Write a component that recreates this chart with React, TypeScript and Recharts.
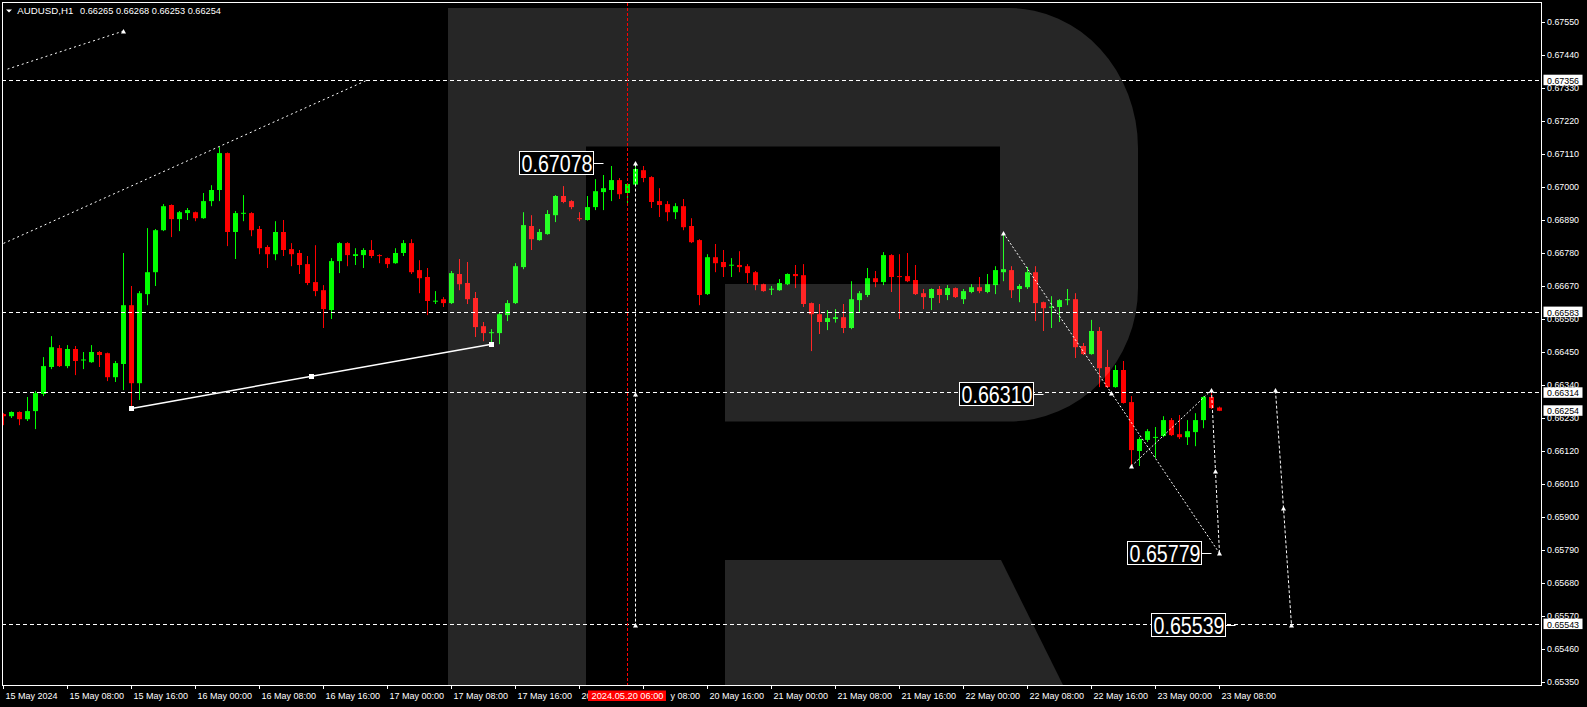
import React from 'react';
import { ComposedChart, Bar, XAxis, YAxis, ReferenceLine, ReferenceDot } from 'recharts';

const FONT = '"Liberation Sans", Arial, sans-serif';
const W = 1587;
const H = 707;
const X_DOMAIN: [number, number] = [-0.1875, 192.1875];
const Y_DOMAIN: [number, number] = [0.6533667, 0.6761667];

// AUDUSD H1 candles, 15 May 2024 00:00 .. 23 May 2024 08:00 (index = hour bar)
const opens = [
  0.66243, 0.66236, 0.6625, 0.66226, 0.66253, 0.6631, 0.664, 0.66463, 0.66403, 0.6646,
  0.66423, 0.66416, 0.6645, 0.66446, 0.66366, 0.6641, 0.66606, 0.66346, 0.66643, 0.66716,
  0.66856, 0.6694, 0.66893, 0.66913, 0.66916, 0.66896, 0.66953, 0.6699, 0.67113, 0.6685,
  0.66913, 0.66913, 0.6686, 0.668, 0.66776, 0.6685, 0.66793, 0.6678, 0.66743, 0.66683,
  0.66656, 0.6659, 0.66753, 0.66813, 0.6677, 0.66773, 0.6679, 0.66773, 0.66763, 0.66746,
  0.6678, 0.66813, 0.66723, 0.667, 0.6662, 0.66626, 0.66613, 0.6671, 0.6668, 0.6663,
  0.66536, 0.66513, 0.66513, 0.66573, 0.66613, 0.66733, 0.6687, 0.66823, 0.66843, 0.66906,
  0.6697, 0.66953, 0.66896, 0.6689, 0.66933, 0.66983, 0.6699, 0.67023, 0.6698, 0.67008,
  0.67056, 0.67033, 0.66953, 0.66943, 0.66916, 0.66936, 0.6687, 0.66823, 0.66643, 0.66766,
  0.6675, 0.6674, 0.6674, 0.66736, 0.66716, 0.66676, 0.6666, 0.66656, 0.66676, 0.6671,
  0.66706, 0.66613, 0.66576, 0.6655, 0.6656, 0.66566, 0.6653, 0.66623, 0.6664, 0.66696,
  0.66683, 0.66773, 0.66703, 0.66703, 0.6669, 0.66646, 0.6663, 0.6666, 0.6664, 0.66663,
  0.66626, 0.6665, 0.66666, 0.6665, 0.66673, 0.66716, 0.66723, 0.6666, 0.66666, 0.66716,
  0.66616, 0.666, 0.666, 0.66623, 0.66626, 0.6647, 0.66443, 0.6652, 0.664, 0.66333,
  0.6639, 0.66283, 0.6612, 0.66157, 0.66166, 0.6617, 0.66223, 0.66176, 0.66166, 0.66183,
  0.66223, 0.663, 0.66265,
];
const highs = [
  0.66246, 0.66252, 0.66252, 0.663, 0.6632, 0.66433, 0.66503, 0.66473, 0.66473, 0.6647,
  0.6645, 0.66473, 0.66453, 0.66448, 0.6642, 0.6678, 0.6667, 0.66653, 0.66863, 0.6686,
  0.66943, 0.66942, 0.6692, 0.6693, 0.66918, 0.6698, 0.67006, 0.67133, 0.67115, 0.6692,
  0.66973, 0.66916, 0.6687, 0.66806, 0.66886, 0.6689, 0.66813, 0.6679, 0.6677, 0.66806,
  0.66673, 0.66763, 0.66816, 0.66816, 0.66796, 0.66796, 0.66823, 0.66776, 0.66765, 0.66796,
  0.66823, 0.66826, 0.66756, 0.6673, 0.66653, 0.66633, 0.6672, 0.6676, 0.6675, 0.6665,
  0.6655, 0.66526, 0.6658, 0.66623, 0.66746, 0.66916, 0.66906, 0.6686, 0.66923, 0.66973,
  0.67003, 0.66956, 0.66916, 0.6697, 0.67026, 0.6704, 0.6707, 0.6703, 0.67013, 0.67078,
  0.6707, 0.67036, 0.66996, 0.66953, 0.66946, 0.6696, 0.66896, 0.66826, 0.66776, 0.6681,
  0.6679, 0.66763, 0.66786, 0.66743, 0.6672, 0.66678, 0.6667, 0.66693, 0.66712, 0.6674,
  0.66743, 0.66615, 0.6661, 0.6659, 0.66593, 0.6661, 0.66686, 0.66653, 0.6673, 0.6672,
  0.66783, 0.66776, 0.66776, 0.6678, 0.6674, 0.6666, 0.66662, 0.6667, 0.66673, 0.66665,
  0.6666, 0.66676, 0.667, 0.6671, 0.66736, 0.66846, 0.66736, 0.66676, 0.66733, 0.66736,
  0.66618, 0.66636, 0.66626, 0.6666, 0.66646, 0.6648, 0.66557, 0.66533, 0.66457, 0.66406,
  0.6642, 0.66303, 0.66166, 0.66193, 0.662, 0.66236, 0.6623, 0.6624, 0.66223, 0.66246,
  0.66303, 0.66326, 0.66268,
];
const lows = [
  0.66206, 0.6623, 0.66206, 0.6622, 0.66193, 0.66303, 0.66393, 0.664, 0.66396, 0.66373,
  0.66393, 0.66414, 0.664, 0.66353, 0.6635, 0.66323, 0.66263, 0.6629, 0.66606, 0.6667,
  0.66853, 0.66833, 0.66853, 0.6689, 0.66886, 0.66894, 0.66936, 0.66953, 0.66803, 0.6676,
  0.66886, 0.66836, 0.66776, 0.6673, 0.66756, 0.6677, 0.66736, 0.6671, 0.66673, 0.66636,
  0.6653, 0.6656, 0.66713, 0.66736, 0.6674, 0.6673, 0.66763, 0.66746, 0.6673, 0.66744,
  0.6677, 0.6671, 0.66646, 0.66573, 0.6661, 0.666, 0.6661, 0.66656, 0.6661, 0.665,
  0.66486, 0.66483, 0.66476, 0.66553, 0.6661, 0.66726, 0.6679, 0.66821, 0.66841, 0.66883,
  0.66946, 0.66926, 0.66886, 0.66888, 0.66923, 0.66923, 0.66953, 0.6696, 0.6694, 0.67004,
  0.67016, 0.6693, 0.669, 0.66886, 0.66893, 0.66856, 0.66813, 0.66606, 0.6664, 0.66716,
  0.667, 0.667, 0.66716, 0.6668, 0.66656, 0.66651, 0.6664, 0.66654, 0.66673, 0.66663,
  0.666, 0.66453, 0.6651, 0.66523, 0.66548, 0.66513, 0.66526, 0.66583, 0.66633, 0.66666,
  0.66673, 0.6665, 0.6656, 0.66683, 0.6664, 0.66593, 0.6659, 0.66613, 0.66623, 0.6663,
  0.6661, 0.66646, 0.66646, 0.66646, 0.66643, 0.66686, 0.6663, 0.66616, 0.6666, 0.66553,
  0.6652, 0.6653, 0.6655, 0.66606, 0.6643, 0.6644, 0.66441, 0.66333, 0.6633, 0.66331,
  0.66278, 0.66066, 0.6607, 0.6615, 0.66096, 0.66166, 0.6617, 0.6616, 0.6614, 0.66136,
  0.66196, 0.6626, 0.66253,
];
const closes = [
  0.66236, 0.6625, 0.66226, 0.66253, 0.66313, 0.66403, 0.66466, 0.66403, 0.6646, 0.6642,
  0.66425, 0.6645, 0.6644, 0.66366, 0.66413, 0.66606, 0.66346, 0.66646, 0.66716, 0.66856,
  0.66936, 0.66893, 0.66916, 0.66923, 0.66896, 0.66953, 0.6699, 0.67113, 0.6685, 0.66913,
  0.66914, 0.66856, 0.66796, 0.66776, 0.6685, 0.6679, 0.66776, 0.6674, 0.6668, 0.66653,
  0.66593, 0.66753, 0.66813, 0.66773, 0.66776, 0.6679, 0.6677, 0.6677, 0.66743, 0.6678,
  0.66813, 0.66716, 0.66696, 0.6662, 0.66621, 0.66613, 0.66713, 0.66676, 0.66626, 0.66533,
  0.66513, 0.66516, 0.66576, 0.66613, 0.66736, 0.66873, 0.66826, 0.6685, 0.6691, 0.6697,
  0.6695, 0.66933, 0.66893, 0.66933, 0.66986, 0.66996, 0.67023, 0.66976, 0.6701, 0.6706,
  0.6703, 0.6695, 0.6694, 0.66916, 0.66936, 0.66866, 0.66816, 0.6664, 0.66766, 0.66746,
  0.66733, 0.66741, 0.66733, 0.66713, 0.66673, 0.66653, 0.66661, 0.6668, 0.6671, 0.66703,
  0.6661, 0.66576, 0.6655, 0.66563, 0.66566, 0.6653, 0.66626, 0.66646, 0.66696, 0.66683,
  0.66773, 0.667, 0.667, 0.66686, 0.66643, 0.66633, 0.6666, 0.6664, 0.66663, 0.66633,
  0.66653, 0.66666, 0.66653, 0.66676, 0.66723, 0.66726, 0.66656, 0.6667, 0.66716, 0.66613,
  0.66596, 0.66601, 0.66623, 0.66626, 0.66466, 0.66443, 0.6652, 0.66396, 0.66333, 0.6639,
  0.6628, 0.66123, 0.6616, 0.66186, 0.66167, 0.66223, 0.66173, 0.66166, 0.66186, 0.66223,
  0.663, 0.66263, 0.66254,
];

// time axis
const timeTickIndex = [0, 8, 16, 24, 32, 40, 48, 56, 64, 72, 80, 88, 96, 104, 112, 120, 128, 136, 144, 152];
const timeTickLabels = [
  '15 May 2024', '15 May 08:00', '15 May 16:00', '16 May 00:00', '16 May 08:00', '16 May 16:00',
  '17 May 00:00', '17 May 08:00', '17 May 16:00', '20 May 00:00', '20 May 08:00', '20 May 16:00',
  '21 May 00:00', '21 May 08:00', '21 May 16:00', '22 May 00:00', '22 May 08:00', '22 May 16:00',
  '23 May 00:00', '23 May 08:00',
];
// parts of the two labels that stay visible next to the crosshair time box
const partlyHiddenLabels: Record<number, { text: string; anchor: 'start' | 'end' }> = {
  72: { text: '20', anchor: 'start' },
  80: { text: 'y 08:00', anchor: 'end' },
};
const crossIndex = 78;
const crossLabel = '2024.05.20 06:00';

// price axis
const priceTicks = [
  0.6535, 0.6546, 0.6557, 0.6568, 0.6579, 0.659, 0.6601, 0.6612, 0.6623, 0.6634, 0.6645,
  0.6656, 0.6667, 0.6678, 0.6689, 0.67, 0.6711, 0.6722, 0.6733, 0.6744, 0.6755,
];
const priceTags = [0.67356, 0.66583, 0.66314, 0.66254, 0.65543];

// annotations
const levelLines = [0.67356, 0.66583, 0.66314, 0.65543];
const dottedLines = [
  { a: [0.5, 0.67393], b: [15, 0.6752], dash: '2 3' },
  { a: [0, 0.66812], b: [45.44, 0.67356], dash: '2 3' },
  { a: [125, 0.66846], b: [152, 0.65779], dash: '2 2' },
  { a: [141, 0.6607], b: [151, 0.66323], dash: '2 2' },
  { a: [151, 0.66323], b: [152, 0.65779], dash: '3 2' },
  { a: [159, 0.66321], b: [161, 0.65539], dash: '3 2' },
  { a: [79, 0.67078], b: [79, 0.65539], dash: '3 2' },
];
const solidLine = { a: [16, 0.66262], b: [61, 0.66476] };
const arrowMarks = [
  [15, 0.6752], [79, 0.67078], [79, 0.6631], [79, 0.65539], [125, 0.66846], [138.5, 0.66312],
  [152, 0.65779], [141, 0.6607], [151, 0.66323], [151.5, 0.66051], [159, 0.66321], [160, 0.6593],
  [161, 0.65539],
];
const squareMarks = [[16, 0.66262], [38.5, 0.66369], [61, 0.66476]];
const priceLabels = [
  { k: 75, p: 0.67078, text: '0.67078' },
  { k: 130, p: 0.6631, text: '0.66310' },
  { k: 151, p: 0.65779, text: '0.65779' },
  { k: 154, p: 0.65539, text: '0.65539' },
];

const candles = opens.map((open, k) => ({
  k,
  open,
  high: highs[k],
  low: lows[k],
  close: closes[k],
  range: [lows[k], highs[k]],
}));
const last = candles.length - 1;
const headerValues = [opens[last], highs[last], lows[last], closes[last]].map((v) => v.toFixed(5)).join(' ');

const Candle = (props: any) => {
  const { x, y, width, height, payload } = props;
  if (x == null || y == null || !payload) return null;
  const top = Math.min(y, y + height);
  const h = Math.abs(height);
  const span = payload.high - payload.low || 1e-9;
  const cx = Math.floor(x + width / 2) + 0.5;
  const py = (p: number) => top + ((payload.high - p) / span) * h;
  const yo = py(payload.open);
  const yc = py(payload.close);
  const up = payload.close >= payload.open;
  const color = up ? '#00FF00' : '#FF0000';
  const bt = Math.min(yo, yc);
  const bh = Math.max(1, Math.abs(yo - yc));
  return (
    <g>
      <line x1={cx} x2={cx} y1={top} y2={top + h} stroke={color} strokeWidth={1} />
      <rect x={cx - 2.5} y={bt} width={5} height={bh} fill={color} />
    </g>
  );
};

const TimeTick = (props: any) => {
  const { x, y, payload } = props;
  const k = payload.value;
  const px = Math.floor(x) + 0.5;
  if (k === crossIndex) {
    return (
      <g>
        <rect x={px - 39.5} y={y + 4.5} width={78} height={10.5} fill="#FF0000" />
        <text x={px} y={y + 13} fill="#FFFFFF" fontSize={9} fontFamily={FONT} textAnchor="middle" textLength={72} lengthAdjust="spacingAndGlyphs">
          {crossLabel}
        </text>
      </g>
    );
  }
  const label = timeTickLabels[timeTickIndex.indexOf(k)];
  const part = partlyHiddenLabels[k];
  return (
    <g>
      <line x1={px} x2={px} y1={y} y2={y + 3} stroke="#FFFFFF" />
      {part ? (
        <text
          x={part.anchor === 'start' ? px + 2 : px + 56.5}
          y={y + 13}
          fill="#FFFFFF"
          fontSize={9}
          fontFamily={FONT}
          textAnchor={part.anchor}
        >
          {part.text}
        </text>
      ) : (
        <text x={px + 2} y={y + 13} fill="#FFFFFF" fontSize={9} fontFamily={FONT}>
          {label}
        </text>
      )}
    </g>
  );
};

const PriceTick = (props: any) => {
  const { x, y, payload } = props;
  const v = payload.value;
  const py = Math.floor(y) + 0.5;
  if (priceTags.includes(v)) {
    return (
      <g>
        <rect x={x + 2.5} y={y - 5.5} width={39} height={10.5} fill="#FFFFFF" />
        <text x={x + 6} y={y + 3.4} fill="#000000" fontSize={9} fontFamily={FONT} textLength={32} lengthAdjust="spacingAndGlyphs">
          {v.toFixed(5)}
        </text>
      </g>
    );
  }
  return (
    <g>
      <line x1={x} x2={x + 4} y1={py} y2={py} stroke="#FFFFFF" />
      <text x={x + 6} y={y + 3.4} fill="#FFFFFF" fontSize={9} fontFamily={FONT} textLength={32} lengthAdjust="spacingAndGlyphs">
        {v.toFixed(5)}
      </text>
    </g>
  );
};

const crispLine = (props: any) => {
  let { x1, y1, x2, y2 } = props;
  if (Math.abs(y1 - y2) < 0.01) {
    const yy = Math.floor(y1) + 0.5;
    y1 = yy;
    y2 = yy;
  }
  if (Math.abs(x1 - x2) < 0.01) {
    const xx = Math.floor(x1) + 0.5;
    x1 = xx;
    x2 = xx;
  }
  return (
    <line
      x1={x1}
      y1={y1}
      x2={x2}
      y2={y2}
      stroke={props.stroke}
      strokeWidth={props.strokeWidth}
      strokeDasharray={props.strokeDasharray}
      fill="none"
    />
  );
};

const ArrowMark = (props: any) => {
  const { cx, cy } = props;
  if (cx == null) return null;
  const x = Math.floor(cx) + 0.5;
  const y = Math.floor(cy) + 0.5;
  return <path d={`M${x - 2.5},${y + 2} L${x},${y - 2.5} L${x + 2.5},${y + 2} Z`} fill="#FFFFFF" />;
};

const SquareMark = (props: any) => {
  const { cx, cy } = props;
  if (cx == null) return null;
  return <rect x={Math.floor(cx) - 2} y={Math.floor(cy) - 2} width={5} height={5} fill="#FFFFFF" />;
};

const makeLabel = (text: string) => (props: any) => {
  const { cx, cy } = props;
  if (cx == null) return null;
  const ax = Math.floor(cx) + 0.5;
  const ay = Math.floor(cy) + 0.5;
  const bx = ax - 10 - 74;
  return (
    <g>
      <line x1={ax - 10} x2={ax} y1={ay} y2={ay} stroke="#FFFFFF" />
      <rect x={bx} y={ay - 12} width={74} height={23} fill="#000000" stroke="#FFFFFF" />
      <text x={bx + 2} y={ay + 8.5} fill="#FFFFFF" fontSize={23} fontFamily={FONT} textLength={71} lengthAdjust="spacingAndGlyphs">
        {text}
      </text>
    </g>
  );
};

const layer: React.CSSProperties = { position: 'absolute', left: 0, top: 0, width: W, height: H };

export default function App() {
  return (
    <div style={{ position: 'absolute', left: 0, top: 0, width: W, height: H, background: '#000000', overflow: 'hidden' }}>
      <div style={layer}>
        <ComposedChart width={W} height={H} data={candles} margin={{ top: 2, right: 0, bottom: 0, left: 2 }}>
          <XAxis
            type="number"
            dataKey="k"
            domain={X_DOMAIN}
            allowDataOverflow
            ticks={[...timeTickIndex, crossIndex]}
            interval={0}
            tick={TimeTick}
            tickLine={false}
            axisLine={false}
            tickSize={0}
            tickMargin={0}
            height={21}
          />
          <YAxis
            type="number"
            orientation="right"
            domain={Y_DOMAIN}
            allowDataOverflow
            ticks={[...priceTicks, ...priceTags]}
            interval={0}
            tick={PriceTick}
            tickLine={false}
            axisLine={false}
            tickSize={0}
            tickMargin={0}
            width={46}
          />
          <Bar dataKey="range" barSize={5} shape={Candle} isAnimationActive={false} />
        </ComposedChart>
      </div>
      <svg style={{ ...layer, pointerEvents: 'none' }} width={W} height={H}>
        <g fill="#FFFFFF" fillOpacity={0.149}>
          <path d="M448,8 H586 V686 H448 Z" />
          <path d="M586,8 H1009 A129,140 0 0 1 1138,148 V288 A129,133.5 0 0 1 1009,421.5 H725 V284 H1000 V146.5 H586 Z" />
          <path d="M725,560 H1001 L1063.5,686 H725 Z" />
        </g>
      </svg>
      <div style={{ ...layer, pointerEvents: 'none' }}>
        <ComposedChart width={W} height={H} data={candles} margin={{ top: 2, right: 46, bottom: 21, left: 2 }}>
          <XAxis type="number" dataKey="k" domain={X_DOMAIN} allowDataOverflow hide />
          <YAxis type="number" domain={Y_DOMAIN} allowDataOverflow hide />
          {levelLines.map((v) => (
            <ReferenceLine key={`lv${v}`} y={v} stroke="#FFFFFF" strokeDasharray="4 3" shape={crispLine} />
          ))}
          <ReferenceLine x={crossIndex} stroke="#FF0000" strokeDasharray="3 2" shape={crispLine} />
          <ReferenceLine
            segment={[
              { x: solidLine.a[0], y: solidLine.a[1] },
              { x: solidLine.b[0], y: solidLine.b[1] },
            ]}
            stroke="#FFFFFF"
            strokeWidth={1.5}
          />
          {dottedLines.map((l, i) => (
            <ReferenceLine
              key={`dl${i}`}
              segment={[
                { x: l.a[0], y: l.a[1] },
                { x: l.b[0], y: l.b[1] },
              ]}
              stroke="#FFFFFF"
              strokeDasharray={l.dash}
              shape={crispLine}
            />
          ))}
          {squareMarks.map((m, i) => (
            <ReferenceDot key={`sq${i}`} x={m[0]} y={m[1]} r={3} shape={SquareMark} />
          ))}
          {arrowMarks.map((m, i) => (
            <ReferenceDot key={`ar${i}`} x={m[0]} y={m[1]} r={3} shape={ArrowMark} />
          ))}
          {priceLabels.map((l) => (
            <ReferenceDot key={`pl${l.text}`} x={l.k} y={l.p} r={3} shape={makeLabel(l.text)} />
          ))}
        </ComposedChart>
      </div>
      <svg style={{ ...layer, pointerEvents: 'none' }} width={W} height={H}>
        <rect x={2.5} y={2.5} width={1539} height={683} fill="none" stroke="#FFFFFF" />
        <path d="M6,9.5 H12 L9,12.5 Z" fill="#FFFFFF" />
        <text x={17.3} y={14} fill="#FFFFFF" fontSize={9.5} fontFamily={FONT} textLength={56} lengthAdjust="spacingAndGlyphs">
          AUDUSD,H1
        </text>
        <text x={80} y={14} fill="#FFFFFF" fontSize={9.5} fontFamily={FONT} textLength={141} lengthAdjust="spacingAndGlyphs">
          {headerValues}
        </text>
      </svg>
    </div>
  );
}
